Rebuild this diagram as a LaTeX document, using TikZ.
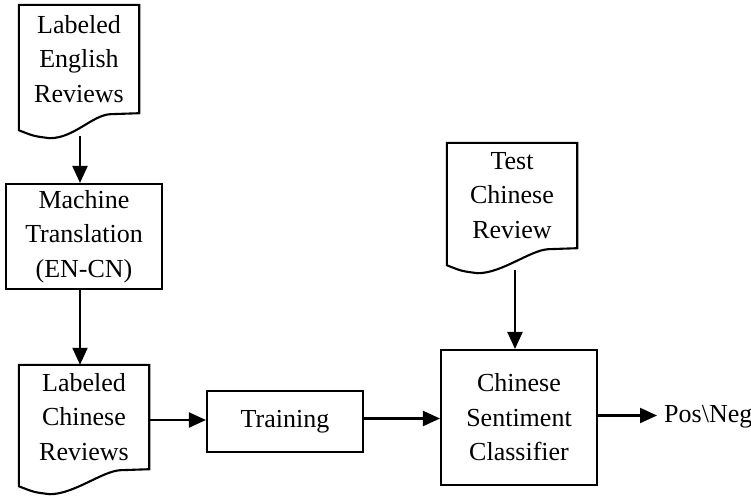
\documentclass[tikz,border=0pt]{standalone}
\usepackage{fontspec}
\setmainfont{Liberation Serif}
\usetikzlibrary{arrows.meta,calc}

% outline of a flowchart "document": rectangle with a wavy bottom edge
\newcommand\docpath[1]{%
  \draw[box line] (#1.south east) -- (#1.north east) -- (#1.north west)
    -- ([yshift=-17pt]#1.south west)
    .. controls ([xshift=15pt,yshift=-23pt]#1.south west) .. ([xshift=31pt,yshift=-25pt]#1.south west)
    .. controls ([xshift=55pt,yshift=-25pt]#1.south west) and ([xshift=-47pt,yshift=-2pt]#1.south east)
    .. ([xshift=-29pt,yshift=-1pt]#1.south east) -- cycle;}

\begin{document}
\begin{tikzpicture}[x=1pt,y=-1pt,
  box line/.style={line width=2.1pt, line join=miter},
  lbl/.style={font=\fontsize{26}{34.5}\selectfont, align=center, inner sep=0pt},
  docnode/.style={lbl},
  flow/.style={line width=2.1pt, -{Triangle[length=17pt,width=15pt]}}]

\useasboundingbox (0,0) rectangle (751,498);

% documents (text area = rectangle above the wave)
\node[docnode, minimum width=120pt, minimum height=108pt] (eng) at (79,59)
  {Labeled\\English\\Reviews};
\docpath{eng}
\node[docnode, minimum width=130pt, minimum height=104pt] (chn) at (84,417)
  {Labeled\\Chinese\\Reviews};
\docpath{chn}
\node[docnode, minimum width=130pt, minimum height=105pt] (tst) at (512,195.5)
  {Test\\Chinese\\Review};
\docpath{tst}

% process boxes
\node[lbl, draw, box line, minimum width=156pt, minimum height=105pt] (mt) at (84,236.5)
  {Machine\\Translation\\(EN-CN)};
\node[lbl, draw, box line, minimum width=156pt, minimum height=61pt] (train) at (285,421.5)
  {Training};
\node[lbl, draw, box line, minimum width=156pt, minimum height=135pt] (cls) at (519,417.5)
  {Chinese\\Sentiment\\Classifier};
\node[lbl, anchor=west] (out) at (664,417) {Pos\textbackslash Neg};

% connector start points on the wavy edges
\coordinate (engw) at ([xshift=1pt,yshift=-23pt]eng.south);
\coordinate (tstw) at ([xshift=3pt,yshift=-22pt]tst.south);

% connectors
\draw[flow] (engw) -- (engw |- mt.north);
\draw[flow] ([xshift=-4pt]mt.south) -- ([xshift=-4pt]mt.south |- chn.north);
\draw[flow] ([yshift=-3pt]chn.east) -- ([yshift=-3pt]chn.east -| train.west);
\draw[flow] ([yshift=3pt]train.east) -- ([yshift=3pt]train.east -| cls.west);
\draw[flow] (tstw) -- (tstw |- cls.north);
\draw[flow] ([yshift=2pt]cls.east) -- ([xshift=-7pt,yshift=2pt]cls.east -| out.west);
\end{tikzpicture}
\end{document}
